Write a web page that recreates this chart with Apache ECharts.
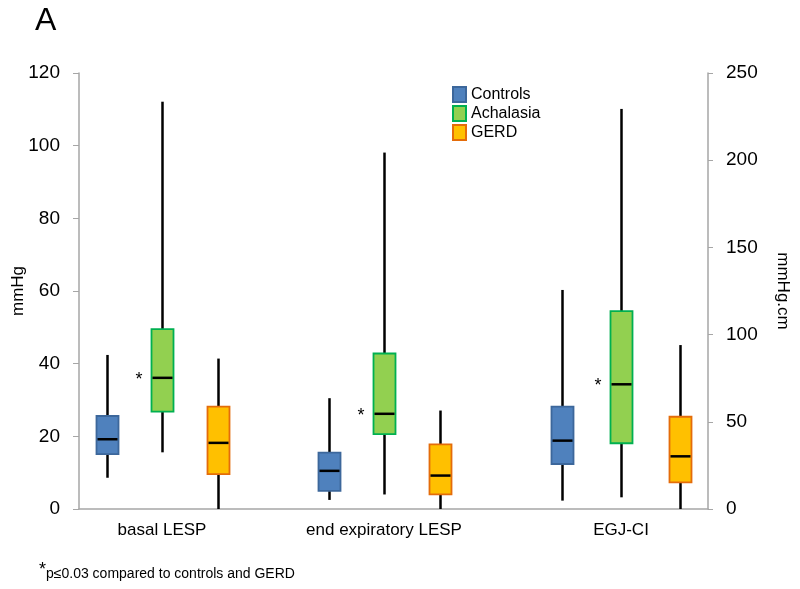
<!DOCTYPE html>
<html>
<head>
<meta charset="utf-8">
<script src="https://cdn.jsdelivr.net/npm/echarts@6/dist/echarts.min.js"></script>
<style>html,body{margin:0;padding:0;background:#fff}#c{width:800px;height:589px}</style>
</head>
<body>
<div id="c"></div>
<script>
// ---- data ----
const categories = ['basal LESP', 'end expiratory LESP', 'EGJ-CI'];
const groups = ['Controls', 'Achalasia', 'GERD'];
// [low whisker, Q1, median, Q3, high whisker] per category
const controls  = [[8.6, 15.1, 19.2, 25.6, 42.4], [2.5, 5.0, 10.5, 15.5, 30.5], [4.8, 25.8, 39.2, 58.7, 125.6]];
const achalasia = [[15.6, 26.8, 36.1, 49.5, 112.1], [4.0, 20.6, 26.2, 42.8, 98.1], [6.7, 37.7, 71.5, 113.5, 229.4]];
const gerd      = [[0, 9.6, 18.2, 28.2, 41.4], [0, 4.0, 9.2, 17.8, 27.1], [0, 15.3, 30.2, 52.9, 94.0]];
const leftTicks = [0, 20, 40, 60, 80, 100, 120];
const rightTicks = [0, 50, 100, 150, 200, 250];
const significant = ['Achalasia'];

// ---- layout ----
const catCenters = [83, 305, 542];        // x-axis units
const boxOffsets = [[-55.5, 0, 55.5], [-55.5, 0, 55.5], [-59, 0, 58.5]];
const rightAxisCat = 2;                   // EGJ-CI uses right axis
const styles = {
  Controls:  { fill: '#4F81BD', border: '#3C679B' },
  Achalasia: { fill: '#92D050', border: '#00B050' },
  GERD:      { fill: '#FFC000', border: '#E46C0A' }
};
const seriesData = { Controls: controls, Achalasia: achalasia, GERD: gerd };

function makeRender(name) {
  const st = styles[name];
  return function (params, api) {
    const x = api.value(0);
    const lo = api.coord([x, api.value(1)]);
    const q1 = api.coord([x, api.value(2)]);
    const md = api.coord([x, api.value(3)]);
    const q3 = api.coord([x, api.value(4)]);
    const hi = api.coord([x, api.value(5)]);
    const w = 22;
    const cx = Math.round(lo[0]) + 0.5;
    const children = [
      { type: 'line', shape: { x1: cx, y1: hi[1], x2: cx, y2: q3[1] }, style: { stroke: '#000', lineWidth: 2.5 } },
      { type: 'line', shape: { x1: cx, y1: q1[1], x2: cx, y2: lo[1] }, style: { stroke: '#000', lineWidth: 2.5 } },
      { type: 'rect', shape: { x: cx - w / 2, y: q3[1], width: w, height: q1[1] - q3[1] },
        style: { fill: st.fill, stroke: st.border, lineWidth: 1.8 } },
      { type: 'line', shape: { x1: cx - w / 2 + 1, y1: md[1], x2: cx + w / 2 - 1, y2: md[1] }, style: { stroke: '#000', lineWidth: 2.5 } }
    ];
    if (significant.indexOf(name) >= 0) {
      children.push({ type: 'text', style: { text: '*', x: cx - w / 2 - 16, y: md[1] + 2, fill: '#000',
        font: '18px "Liberation Sans", Arial, sans-serif', textVerticalAlign: 'middle' } });
    }
    return { type: 'group', children: children };
  };
}

const series = [];
groups.forEach(function (name, gi) {
  const vals = seriesData[name];
  [0, 1].forEach(function (axisIdx) {
    const data = [];
    categories.forEach(function (c, ci) {
      const isRight = ci === rightAxisCat;
      if ((axisIdx === 1) !== isRight) return;
      data.push([catCenters[ci] + boxOffsets[ci][gi]].concat(vals[ci]));
    });
    series.push({
      name: name, type: 'custom', xAxisIndex: 0, yAxisIndex: axisIdx,
      renderItem: makeRender(name), data: data,
      encode: { x: 0, y: [1, 2, 3, 4, 5] },
      itemStyle: { color: styles[name].fill, borderColor: styles[name].border },
      silent: true, animation: false
    });
  });
});

const font = '"Liberation Sans", Arial, sans-serif';
const chart = echarts.init(document.getElementById('c'), null, { renderer: 'canvas' });
chart.setOption({
  animation: false,
  backgroundColor: '#fff',
  title: { text: 'A', left: 30, top: 0, textStyle: { fontSize: 32, fontWeight: 'normal', color: '#000', fontFamily: font } },
  legend: {
    orient: 'vertical', left: 447, top: 81, itemWidth: 13, itemHeight: 15, itemGap: 2,
    textStyle: { fontSize: 16, lineHeight: 17, color: '#000', fontFamily: font },
    data: groups.map(function (g) {
      return { name: g, icon: 'rect', itemStyle: { color: styles[g].fill, borderColor: styles[g].border, borderWidth: 2 } };
    })
  },
  grid: { left: 79, right: 92, top: 73, bottom: 80, containLabel: false, outerBoundsMode: 'none' },
  xAxis: {
    type: 'value', min: 0, max: 629,
    splitLine: { show: false },
    axisLine: { show: true, lineStyle: { color: '#A6A6A6', width: 1.5 } },
    axisTick: { show: false },
    axisLabel: {
      customValues: catCenters, margin: 13, fontSize: 17, color: '#000', fontFamily: font,
      formatter: function (v) { const i = catCenters.indexOf(v); return i >= 0 ? categories[i] : ''; }
    }
  },
  yAxis: [
    {
      type: 'value', min: leftTicks[0], max: leftTicks[leftTicks.length - 1], interval: leftTicks[1] - leftTicks[0],
      name: 'mmHg', nameLocation: 'middle', nameGap: 52, nameRotate: 90, nameMoveOverlap: false,
      nameTextStyle: { fontSize: 17, color: '#000', fontFamily: font },
      splitLine: { show: false },
      axisLine: { show: true, lineStyle: { color: '#A6A6A6', width: 1.5 } },
      axisTick: { show: true, length: 6, lineStyle: { color: '#A6A6A6' } },
      axisLabel: { fontSize: 19, color: '#000', margin: 19, fontFamily: font }
    },
    {
      type: 'value', position: 'right', min: rightTicks[0], max: rightTicks[rightTicks.length - 1], interval: rightTicks[1] - rightTicks[0],
      name: 'mmHg.cm', nameLocation: 'middle', nameGap: 66, nameRotate: -90, nameMoveOverlap: false,
      nameTextStyle: { fontSize: 17, color: '#000', fontFamily: font },
      splitLine: { show: false },
      axisLine: { show: true, lineStyle: { color: '#A6A6A6', width: 1.5 } },
      axisTick: { show: true, length: 5, lineStyle: { color: '#A6A6A6' } },
      axisLabel: { fontSize: 19, color: '#000', margin: 18, fontFamily: font }
    }
  ],
  graphic: [{
    type: 'text', left: 39, top: 561,
    style: {
      text: '{s|*}{t|p≤0.03 compared to controls and GERD}',
      rich: {
        s: { fontSize: 18, fontFamily: font, fill: '#000', verticalAlign: 'top' },
        t: { fontSize: 14, fontFamily: font, fill: '#000', padding: [6, 0, 0, 0] }
      }
    }
  }],
  series: series
});
</script>
</body>
</html>
